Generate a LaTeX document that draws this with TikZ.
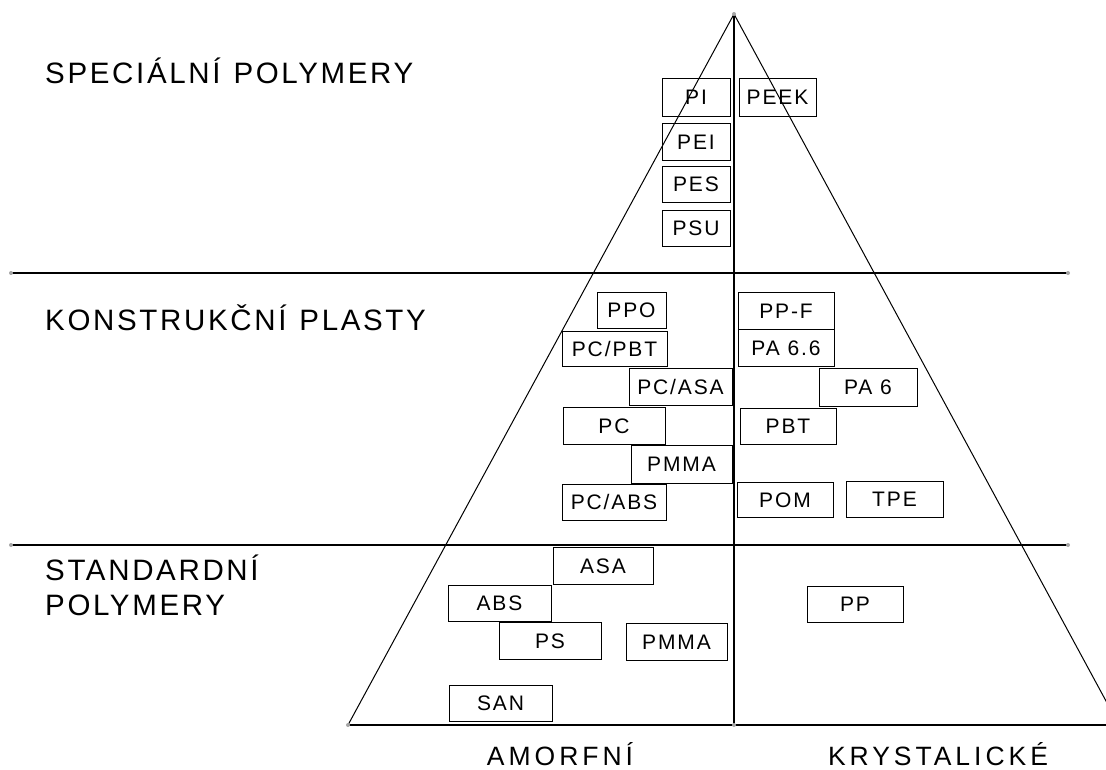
\documentclass[tikz,border=0pt]{standalone}
\usepackage{fontspec}
\setmainfont{Liberation Sans}
\newfontfamily\boxfont{Liberation Sans}[LetterSpace=9]
\newfontfamily\labfont{Liberation Sans}[LetterSpace=9]
\newfontfamily\botfont{Liberation Sans}[LetterSpace=15]
\newcommand\pbox[6]{\node[bx, minimum width={#4-#3}, minimum height={#6-#5}] (#1) at ({(#3+#4)/2},{(#5+#6)/2}) {#2};}
\newcommand\wsp{\hspace{13pt}}
\begin{document}
\begin{tikzpicture}[x=1pt,y=-1pt,
  bx/.style={draw=black, line width=1pt, inner sep=0pt, font=\boxfont\fontsize{21}{24}\selectfont, text height=15pt, text depth=0pt},
  heavy/.style={line width=1.7pt},
  side/.style={line width=1pt},
  dot/.style={circle, fill=gray!70, inner sep=0pt, minimum size=4pt},
  lab/.style={font=\labfont\fontsize{29.5}{32}\selectfont, inner sep=0pt, anchor=base west},
  blab/.style={font=\botfont\fontsize{26.5}{30}\selectfont, inner sep=0pt, anchor=base}]
\useasboundingbox (0,0) rectangle (1106,769);
\clip (0,0) rectangle (1106,769);
\coordinate (apex) at (734,14);
\coordinate (bl) at (348,725);
\coordinate (bm) at (734,725);
\coordinate (br) at (1119,725);
\coordinate (h1l) at (11,273);
\coordinate (h1r) at (1068,273);
\coordinate (h2l) at (11,545);
\coordinate (h2r) at (1068,545);
% frame
\draw[side] (bl) -- (apex) -- (br);
\draw[heavy] (apex) -- (bm);
\draw[heavy] (bl) -- (br);
\draw[heavy] (h1l) -- (h1r);
\draw[heavy] (h2l) -- (h2r);
\foreach \p in {apex,bl,bm,h1l,h1r,h2l,h2r} \node[dot] at (\p) {};
% labels
\node[lab] (spec) at (45,83) {SPECIÁLNÍ\wsp POLYMERY};
\node[lab] (konst) at (45,330) {KONSTRUKČNÍ\wsp PLASTY};
\node[lab] (std1) at (45,580) {STANDARDNÍ};
\node[lab] (std2) at (45,615) {POLYMERY};
\node[blab] (amo) at (560,765) {AMORFNÍ};
\node[blab] (kry) at (938,765) {KRYSTALICKÉ};
% boxes
\pbox{pi}{PI}{662}{730}{78}{116}
\pbox{peek}{PEEK}{739}{816}{78}{116}
\pbox{pei}{PEI}{662}{730}{123}{160}
\pbox{pes}{PES}{662}{730}{166}{202}
\pbox{psu}{PSU}{662}{730}{210}{246}
\pbox{ppo}{PPO}{597}{666}{292}{328}
\pbox{pcpbt}{PC/PBT}{562}{667}{331}{366}
\pbox{pcasa}{PC/ASA}{629}{732}{368}{405}
\pbox{pc}{PC}{563}{665}{407}{444}
\pbox{pmma}{PMMA}{631}{732}{445}{483}
\pbox{pcabs}{PC/ABS}{562}{666}{484}{520}
\pbox{ppf}{PP-F}{738}{834}{292}{329}
\pbox{pa66}{PA 6.6}{738}{834}{329}{366}
\pbox{pa6}{PA 6}{819}{917}{368}{406}
\pbox{pbt}{PBT}{740}{836}{408}{444}
\pbox{pom}{POM}{737}{833}{482}{517}
\pbox{tpe}{TPE}{846}{943}{481}{517}
\pbox{asa}{ASA}{553}{653}{547}{584}
\pbox{abs}{ABS}{448}{551}{585}{621}
\pbox{ps}{PS}{499}{601}{622}{659}
\pbox{pmmab}{PMMA}{626}{727}{623}{660}
\pbox{san}{SAN}{449}{552}{685}{721}
\pbox{pp}{PP}{807}{903}{586}{622}
\end{tikzpicture}
\end{document}
